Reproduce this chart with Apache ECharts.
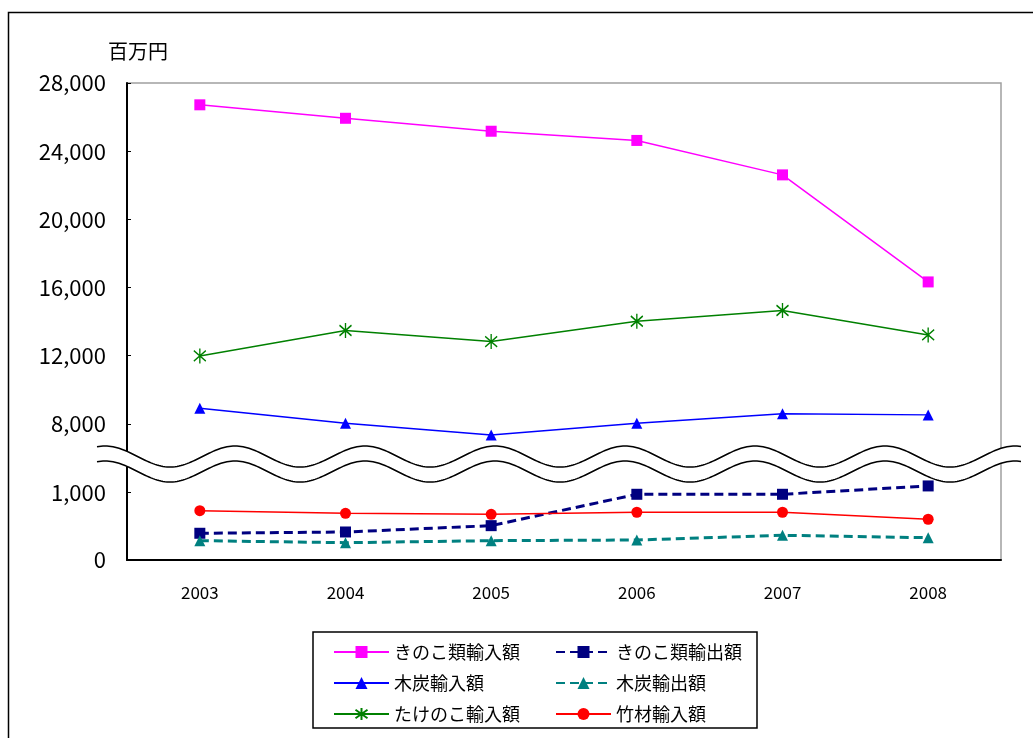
<!DOCTYPE html>
<html>
<head>
<meta charset="utf-8">
<script src="https://cdn.jsdelivr.net/npm/echarts@6/dist/echarts.min.js"></script>
<style>
  html, body { margin: 0; padding: 0; background: #fff; }
  #main { width: 1033px; height: 738px; }
</style>
</head>
<body>
<div id="main"></div>
<script>
// データ（百万円）
var years = ['2003', '2004', '2005', '2006', '2007', '2008'];
var kinokoImport = [26720, 25930, 25170, 24630, 22610, 16330];
var kinokoExport = [397, 416, 510, 976, 976, 1100];
var charcoalImport = [8920, 8040, 7350, 8040, 8590, 8530];
var charcoalExport = [287, 257, 287, 297, 367, 331];
var takenokoImport = [11990, 13480, 12830, 14020, 14650, 13220];
var bambooImport = [733, 694, 679, 709, 709, 605];
var upperTicks = [8000, 12000, 16000, 20000, 24000, 28000];
var lowerTicks = [0, 1000];

var FONT = "'Noto Sans CJK JP', 'Noto Sans', sans-serif";

function fmt(v) {
    return String(v).replace(/\B(?=(\d{3})+(?!\d))/g, ',');
}

// 波線（省略記号）
function wave(offset) {
    var pts = [];
    for (var x = 97; x <= 1022; x += 2) {
        pts.push([x, 456.5 + offset + 10.5 * Math.cos(2 * Math.PI * (x - 170) / 130)]);
    }
    return pts;
}
var waveTop = wave(0);
var waveBottom = wave(15);
var band = waveTop.concat(waveBottom.slice().reverse());

var chart = echarts.init(document.getElementById('main'));

function yAxisOf(grid, min, max, ticks) {
    return {
        type: 'value',
        gridIndex: grid,
        min: min,
        max: max,
        axisLine: { show: true, lineStyle: { color: '#000', width: 2 } },
        axisTick: { show: true, inside: true, length: 4, customValues: ticks, lineStyle: { color: '#000', width: 1 } },
        axisLabel: { customValues: ticks, fontSize: 22, margin: 21, color: '#000', fontFamily: FONT, formatter: fmt },
        splitLine: { show: false }
    };
}

function solid(name, data, grid, color, symbol, size) {
    return {
        name: name, type: 'line', data: data,
        xAxisIndex: grid, yAxisIndex: grid,
        symbol: symbol, symbolSize: size,
        lineStyle: { color: color, width: 1.5 },
        itemStyle: { color: color }
    };
}

function dashed(name, data, grid, color, symbol, size) {
    return {
        name: name, type: 'line', data: data,
        xAxisIndex: grid, yAxisIndex: grid,
        symbol: symbol, symbolSize: size,
        lineStyle: { color: color, width: 3, type: [9, 5] },
        itemStyle: { color: color }
    };
}

var legendBase = {
    orient: 'vertical',
    top: 642,
    padding: 0,
    itemWidth: 55,
    itemHeight: 15,
    itemGap: 11,
    selectedMode: false,
    textStyle: { fontSize: 18, lineHeight: 20, color: '#000', fontFamily: FONT }
};

var option = {
    backgroundColor: '#fff',
    animation: false,
    title: {
        text: '百万円', left: 108, top: 41, padding: 0,
        textStyle: { fontSize: 20, fontWeight: 'normal', color: '#000', fontFamily: FONT }
    },
    legend: [
        Object.assign({}, legendBase, { left: 333, data: ['きのこ類輸入額', '木炭輸入額', 'たけのこ輸入額'] }),
        Object.assign({}, legendBase, { left: 555, data: ['きのこ類輸出額', '木炭輸出額', '竹材輸入額'] })
    ],
    grid: [
        { left: 127, top: 83, width: 874, height: 375 },
        { left: 127, top: 459, width: 874, height: 101 },
        { left: 127, top: 83, width: 874, height: 477, show: true, borderColor: '#a0a0a0', borderWidth: 1.5, backgroundColor: 'transparent' }
    ],
    xAxis: [
        { type: 'category', data: years, gridIndex: 0, show: false },
        {
            type: 'category', data: years, gridIndex: 1,
            axisLine: { lineStyle: { color: '#000', width: 2 } },
            axisTick: { inside: true, length: 5, lineStyle: { color: '#000' } },
            axisLabel: { fontSize: 17, margin: 24, color: '#000', fontFamily: FONT }
        },
        { type: 'category', data: years, gridIndex: 2, show: false }
    ],
    yAxis: [
        yAxisOf(0, 6000, 28000, upperTicks),
        yAxisOf(1, 0, 1500, lowerTicks),
        { type: 'value', gridIndex: 2, show: false, splitLine: { show: false } }
    ],
    series: [
        solid('きのこ類輸入額', kinokoImport, 0, '#ff00ff', 'rect', 11),
        dashed('きのこ類輸出額', kinokoExport, 1, '#000080', 'rect', 11),
        solid('木炭輸入額', charcoalImport, 0, '#0000ff', 'triangle', 11),
        dashed('木炭輸出額', charcoalExport, 1, '#008080', 'triangle', 11),
        {
            name: 'たけのこ輸入額', type: 'line', data: takenokoImport,
            xAxisIndex: 0, yAxisIndex: 0,
            symbol: 'path://M0,-10L0,10M-7,-7L7,7M-7,7L7,-7',
            symbolSize: [12, 15],
            lineStyle: { color: '#008000', width: 1.5 },
            itemStyle: { color: '#008000', borderColor: '#008000', borderWidth: 1.5 }
        },
        solid('竹材輸入額', bambooImport, 1, '#ff0000', 'circle', 11)
    ],
    graphic: [
        {
            type: 'rect', z: 100, silent: true,
            shape: { x: 8.5, y: 12.5, width: 1100, height: 800 },
            style: { fill: 'none', stroke: '#000', lineWidth: 1.5 }
        },
        {
            type: 'rect', z: 100, silent: true,
            shape: { x: 313, y: 632, width: 444, height: 96 },
            style: { fill: 'none', stroke: '#000', lineWidth: 1.5 }
        },
        {
            type: 'polygon', z: 100, silent: true,
            shape: { points: band },
            style: { fill: '#fff', stroke: 'none' }
        },
        {
            type: 'polyline', z: 101, silent: true,
            shape: { points: waveTop },
            style: { fill: 'none', stroke: '#000', lineWidth: 1.5 }
        },
        {
            type: 'polyline', z: 101, silent: true,
            shape: { points: waveBottom },
            style: { fill: 'none', stroke: '#000', lineWidth: 1.5 }
        }
    ]
};

chart.setOption(option);
</script>
</body>
</html>
